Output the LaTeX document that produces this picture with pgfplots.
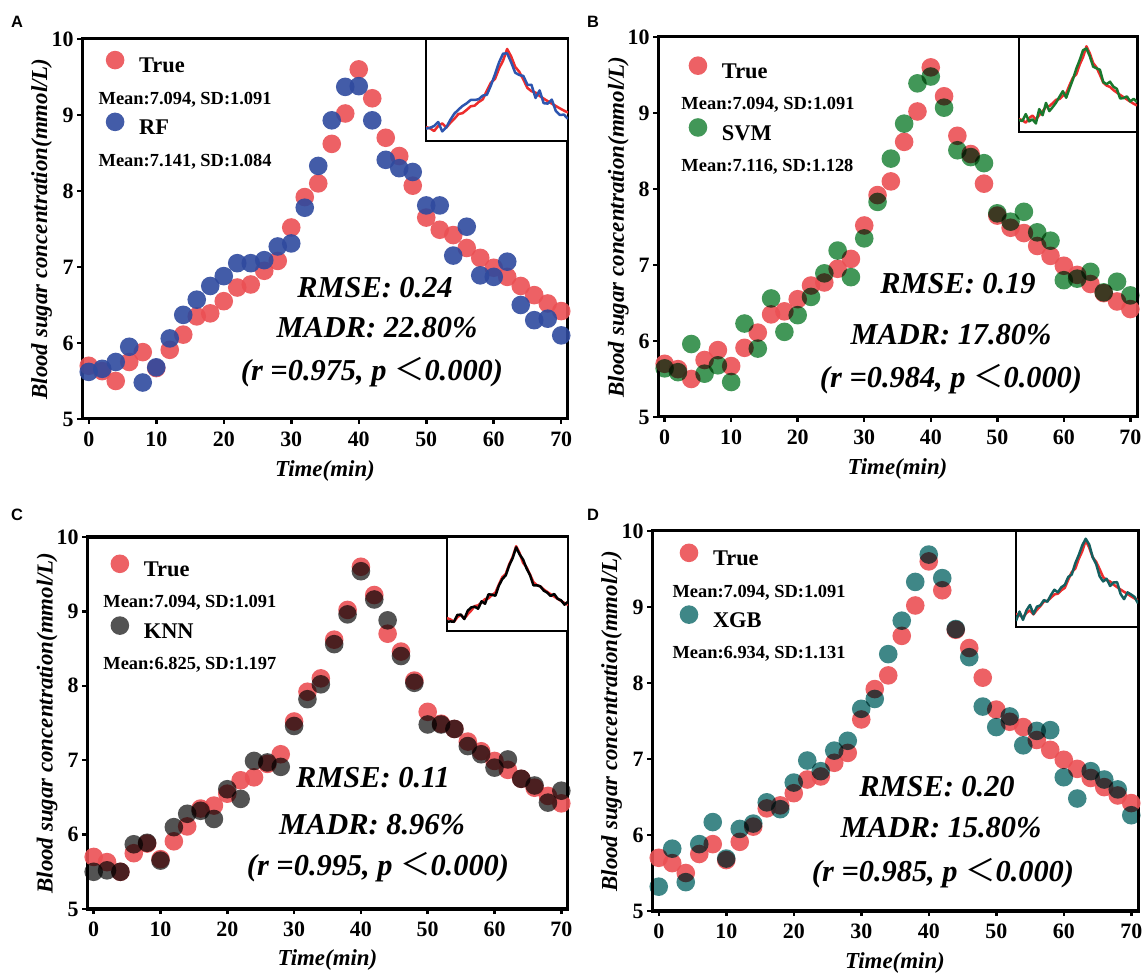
\documentclass[border=0pt]{standalone}
\usepackage{pgfplots}
\pgfplotsset{compat=1.18}
\usepackage{pgfplotstable}
\usepackage{fontspec}
\setmainfont{Liberation Serif}
\newfontfamily\sansf{Liberation Sans}
\newfontfamily\cjk{Noto Sans CJK SC}

\definecolor{cTrue}{RGB}{235,80,84}
\definecolor{cRF}{RGB}{47,74,158}
\definecolor{cSVM}{RGB}{46,140,70}
\definecolor{cKNN}{RGB}{64,64,64}
\definecolor{cXGB}{RGB}{42,122,122}
\definecolor{lTrue}{RGB}{237,45,45}
\definecolor{lRF}{RGB}{45,85,175}
\definecolor{lSVM}{RGB}{25,120,45}
\definecolor{lKNN}{RGB}{0,0,0}
\definecolor{lXGB}{RGB}{20,95,95}

\pgfplotstableread{
t  true rf   svm  knn  xgb
0  5.70 5.62 5.64 5.50 5.32
2  5.63 5.66 5.59 5.52 5.82
4  5.50 5.75 5.96 5.50 5.38
6  5.75 5.95 5.57 5.87 5.88
8  5.88 5.48 5.68 5.89 6.17
10 5.67 5.68 5.46 5.65 5.69
12 5.91 6.06 6.23 6.10 6.08
14 6.11 6.37 5.90 6.28 6.15
16 6.35 6.57 6.56 6.32 6.43
18 6.39 6.75 6.12 6.21 6.34
20 6.55 6.88 6.34 6.61 6.69
22 6.73 7.05 6.58 6.48 6.98
24 6.77 7.05 6.89 6.99 6.84
26 6.95 7.09 7.19 6.97 7.11
28 7.08 7.27 6.84 6.91 7.24
30 7.52 7.31 7.35 7.46 7.66
32 7.92 7.78 7.83 7.82 7.79
34 8.10 8.33 8.40 8.02 8.38
36 8.62 8.93 8.86 8.56 8.82
38 9.02 9.37 9.39 8.96 9.33
40 9.60 9.38 9.48 9.54 9.69
42 9.22 8.93 9.07 9.16 9.38
44 8.70 8.41 8.51 8.88 8.71
46 8.46 8.30 8.42 8.40 8.34
48 8.07 8.25 8.34 8.04 7.69
50 7.65 7.81 7.68 7.48 7.42
52 7.49 7.81 7.57 7.48 7.56
54 7.42 7.15 7.70 7.42 7.18
56 7.25 7.53 7.43 7.19 7.37
58 7.12 6.89 7.32 7.08 7.38
60 6.99 6.87 6.80 6.90 6.76
62 6.87 7.07 6.82 7.01 6.48
64 6.75 6.50 6.91 6.75 6.84
66 6.63 6.30 6.64 6.66 6.73
68 6.52 6.32 6.78 6.43 6.60
70 6.42 6.10 6.60 6.59 6.26
}\data

\pgfplotsset{
  mainax/.style={
    scale only axis, xmin=-1, xmax=71, ymin=5, ymax=10,
    xtick={0,10,...,70}, ytick={5,6,...,10},
    tick align=outside, xtick pos=bottom, ytick pos=left,
    major tick length=5bp,
    every tick/.style={black, line width=2.5bp},
    axis line style={line width=3bp, line cap=rect},
    ticklabel style={font=\fontsize{22}{22}\selectfont\bfseries},
    xticklabel style={yshift=-4bp},
    /pgf/number format/assume math mode=true,
    xlabel={Time(min)},
    ylabel={Blood sugar concentration(mmol/L)},
    every axis x label/.style={at={(rel axis cs:0.5,-0.138)}, anchor=center,
      font=\fontsize{23}{23}\selectfont\bfseries\itshape},
    every axis y label/.style={at={(rel axis cs:-0.083,0.5)}, anchor=center, rotate=90,
      font=\fontsize{23}{23}\selectfont\bfseries\itshape},
    clip=false,
    legend cell align=left,
    legend style={draw=none, fill=none, inner sep=0pt, outer sep=0pt,
      anchor=north west, row sep=6.8bp, column sep=14.7bp,
      nodes={inner sep=0pt, text height=16bp, text depth=5bp,
        font=\fontsize{22.5}{22.5}\selectfont\bfseries}},
  },
  dots/.style={only marks, mark=*, mark size=9.3bp,
    mark options={line width=0pt, draw=#1, fill=#1, draw opacity=0}, color=#1,
    legend image code/.code={\draw[##1, only marks] plot coordinates {(9.3bp,7.4bp)};}},
  inset/.style={scale only axis, xmin=0, xmax=70, ymin=5, ymax=10.1,
    xtick=\empty, ytick=\empty, axis line style={line width=2.5bp},
    axis background/.style={fill=white}},
}
\newcommand{\meantext}[1]{\hspace*{-40.5bp}\raisebox{-3.5bp}{\fontsize{18.5}{18.5}\selectfont\bfseries #1}}

\begin{document}
\begin{tikzpicture}
\path[use as bounding box] (0,0) rectangle (1146bp,974bp);

% ---------- A ----------
\begin{axis}[mainax, at={(82bp,555bp)}, width=486bp, height=380bp,
  legend style={at={(rel axis cs:0.049,0.969)}}]
\addplot[dots=cTrue, fill opacity=0.9] table[x=t,y=true]{\data};
\addlegendentry{True}
\addlegendimage{empty legend}
\addlegendentry{\meantext{Mean:7.094, SD:1.091}}
\addplot[dots=cRF, fill opacity=0.9] table[x=t,y=rf]{\data};
\addlegendentry{RF}
\addlegendimage{empty legend}
\addlegendentry{\meantext{Mean:7.141, SD:1.084}}
\end{axis}
\begin{axis}[inset, at={(426bp,833bp)}, width=142bp, height=102bp]
\addplot[lTrue, line width=2.5bp, line join=round] table[x=t,y=true]{\data};
\addplot[lRF, line width=2.5bp, line join=round] table[x=t,y=rf]{\data};
\end{axis}

% ---------- B ----------
\begin{axis}[mainax, at={(658bp,557bp)}, width=479bp, height=380bp,
  legend style={at={(rel axis cs:0.064,0.949)}}]
\addplot[dots=cTrue, fill opacity=0.9] table[x=t,y=true]{\data};
\addlegendentry{True}
\addlegendimage{empty legend}
\addlegendentry{\meantext{Mean:7.094, SD:1.091}}
\addplot[dots=cSVM, fill opacity=0.9, /tikz/blend mode=multiply] table[x=t,y=svm]{\data};
\addlegendentry{SVM}
\addlegendimage{empty legend}
\addlegendentry{\meantext{Mean:7.116, SD:1.128}}
\end{axis}
\begin{axis}[inset, at={(1019bp,842bp)}, width=118bp, height=95bp]
\addplot[lTrue, line width=2.5bp, line join=round] table[x=t,y=true]{\data};
\addplot[lSVM, line width=2.5bp, line join=round] table[x=t,y=svm]{\data};
\end{axis}

% ---------- C ----------
\begin{axis}[mainax, at={(87bp,65bp)}, width=481bp, height=372bp,
  legend style={at={(rel axis cs:0.049,0.953)}}]
\addplot[dots=cTrue, fill opacity=0.9] table[x=t,y=true]{\data};
\addlegendentry{True}
\addlegendimage{empty legend}
\addlegendentry{\meantext{Mean:7.094, SD:1.091}}
\addplot[dots=cKNN, fill opacity=0.9, /tikz/blend mode=multiply] table[x=t,y=knn]{\data};
\addlegendentry{KNN}
\addlegendimage{empty legend}
\addlegendentry{\meantext{Mean:6.825, SD:1.197}}
\end{axis}
\begin{axis}[inset, at={(447bp,343bp)}, width=121bp, height=94bp]
\addplot[lTrue, line width=2.5bp, line join=round] table[x=t,y=true]{\data};
\addplot[lKNN, line width=2.5bp, line join=round] table[x=t,y=knn]{\data};
\end{axis}

% ---------- D ----------
\begin{axis}[mainax, at={(652bp,63bp)}, width=486bp, height=380bp,
  legend style={at={(rel axis cs:0.057,0.967)}}]
\addplot[dots=cTrue, fill opacity=0.9] table[x=t,y=true]{\data};
\addlegendentry{True}
\addlegendimage{empty legend}
\addlegendentry{\meantext{Mean:7.094, SD:1.091}}
\addplot[dots=cXGB, fill opacity=0.9, /tikz/blend mode=multiply] table[x=t,y=xgb]{\data};
\addlegendentry{XGB}
\addlegendimage{empty legend}
\addlegendentry{\meantext{Mean:6.934, SD:1.131}}
\end{axis}
\begin{axis}[inset, at={(1016bp,347bp)}, width=122bp, height=96bp]
\addplot[lTrue, line width=2.5bp, line join=round] table[x=t,y=true]{\data};
\addplot[lXGB, line width=2.5bp, line join=round] table[x=t,y=xgb]{\data};
\end{axis}

% ---------- annotations ----------
\begin{scope}[every node/.style={font=\fontsize{30.5}{30.5}\selectfont\bfseries\itshape, anchor=center, inner sep=0pt}]
\node at (375bp,686bp) {RMSE: 0.24};
\node at (377bp,646bp) {MADR: 22.80\%};
\node at (372bp,602bp) {(r =0.975, p {\cjk\upshape\mdseries ＜}0.000)};
\node at (958bp,690bp) {RMSE: 0.19};
\node at (951bp,639bp) {MADR: 17.80\%};
\node at (951bp,595bp) {(r =0.984, p {\cjk\upshape\mdseries ＜}0.000)};
\node at (373bp,196bp) {RMSE: 0.11};
\node at (372bp,149bp) {MADR: 8.96\%};
\node at (378bp,107bp) {(r =0.995, p {\cjk\upshape\mdseries ＜}0.000)};
\node at (937bp,187bp) {RMSE: 0.20};
\node at (941bp,146bp) {MADR: 15.80\%};
\node at (943bp,101bp) {(r =0.985, p {\cjk\upshape\mdseries ＜}0.000)};
\end{scope}
\begin{scope}[every node/.style={font=\sansf\bfseries\fontsize{16.5}{16.5}\selectfont, anchor=base west, inner sep=0pt}]
\node at (11bp,946bp) {A};
\node at (587bp,946bp) {B};
\node at (11bp,453bp) {C};
\node at (587bp,453bp) {D};
\end{scope}
\end{tikzpicture}
\end{document}
